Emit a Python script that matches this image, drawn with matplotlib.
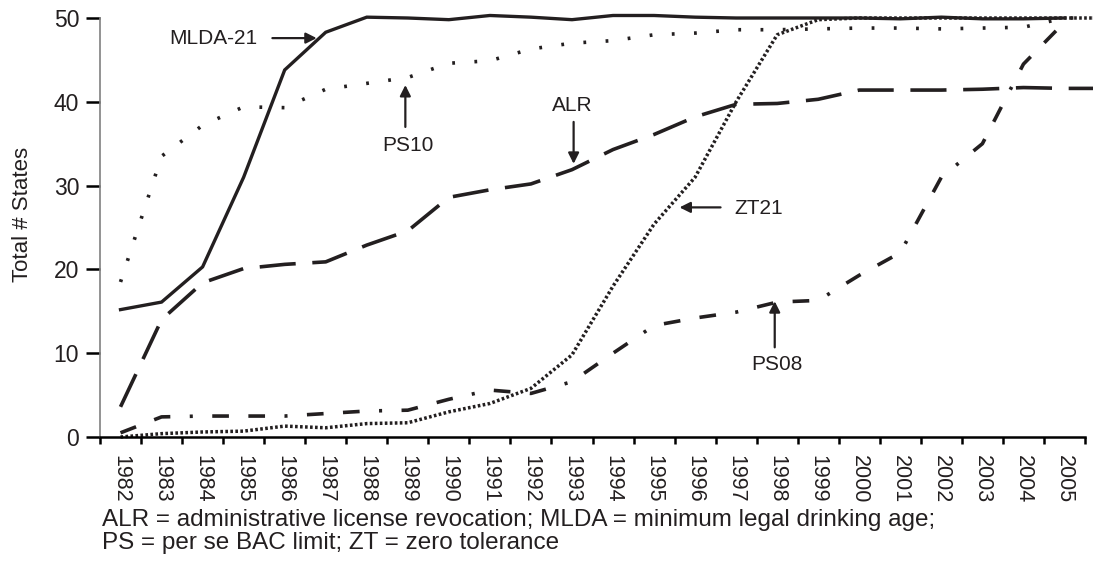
import matplotlib
matplotlib.use("Agg")
import matplotlib.pyplot as plt
import numpy as np

plt.rcParams['font.family'] = ['Liberation Sans', 'DejaVu Sans']
plt.rcParams['lines.scale_dashes'] = False

INK = '#231f20'

years = [str(y) for y in range(1982, 2006)]

# state counts per year; the last value of some series is the year after 2005,
# which runs off the right edge of the original figure
mlda21 = [15.2, 16.1, 20.3, 31.0, 43.8, 48.3, 50.1, 50.0, 49.8, 50.3, 50.1, 49.8,
          50.3, 50.3, 50.1, 50.0, 50.0, 50.0, 50.0, 49.9, 50.1, 49.9, 49.9, 50.0]
ps10 = [18.5, 33.5, 37.2, 39.4, 39.3, 41.5, 42.2, 42.9, 44.6, 44.9, 46.3, 47.0,
        47.3, 48.0, 48.2, 48.6, 48.6, 48.7, 48.8, 48.8, 48.7, 48.8, 48.9, 50.0, 50.0]
alr = [3.6, 14.0, 18.4, 20.1, 20.6, 20.9, 22.9, 24.6, 28.6, 29.5, 30.2, 31.9,
       34.3, 36.1, 38.2, 39.7, 39.8, 40.3, 41.4, 41.4, 41.4, 41.5, 41.7, 41.6, 41.6]
zt21 = [0.0, 0.4, 0.6, 0.7, 1.3, 1.1, 1.6, 1.7, 3.0, 4.0, 5.8, 9.8,
        18.0, 25.4, 31.0, 40.0, 48.0, 49.8, 50.0, 50.0, 50.0, 50.0, 50.0, 50.0, 50.0]
ps08 = [0.5, 2.4, 2.5, 2.5, 2.5, 2.8, 3.1, 3.2, 4.5, 5.6, 5.2, 6.6,
        10.0, 13.3, 14.2, 14.9, 16.1, 16.3, 19.3, 22.0, 31.0, 35.0, 44.5, 49.5]

# (label, text x, text y, arrow start, arrow end) in data units
callouts = [
    ('MLDA-21', 2.26, 47.6, (3.70, 47.6), (4.78, 47.6)),
    ('PS10', 7.01, 34.8, (6.94, 37.0), (6.94, 42.0)),
    ('ALR', 11.01, 39.6, (11.04, 37.6), (11.04, 32.6)),
    ('ZT21', 15.55, 27.3, (14.62, 27.4), (13.62, 27.4)),
    ('PS08', 15.99, 8.6, (15.94, 10.7), (15.94, 16.2)),
]


def draw(ax, values, **kw):
    x = np.arange(len(values))
    ax.plot(x, values, color=INK, clip_on=False, **kw)


fig = plt.figure(figsize=(10.93, 5.67), dpi=100)
ax = fig.add_axes([100 / 1093, 130 / 567, 985 / 1093, 419 / 567])

draw(ax, mlda21, lw=2.4, solid_joinstyle='miter')
draw(ax, ps10, lw=2.6, linestyle=(0, (2.0, 14)))
draw(ax, alr, lw=2.6, linestyle=(0, (26, 12)))
draw(ax, zt21, lw=2.5, linestyle=(0, (1.9, 1.7)))
draw(ax, ps08, lw=2.6, linestyle=(0, (12, 14, 12, 14, 2.2, 14)))

for label, tx, ty, start, end in callouts:
    ax.text(tx, ty, label, fontsize=15, color=INK, ha='center', va='center')
    ax.annotate('', xy=end, xytext=start,
                arrowprops=dict(arrowstyle='-|>', color=INK, lw=1.6,
                                mutation_scale=16, shrinkA=0, shrinkB=0))

ax.set_xlim(-0.5, len(years) - 0.5)
ax.set_ylim(0, 50)

ax.set_xticks(np.arange(len(years) + 1) - 0.5)
ax.set_xticklabels([])
ax.set_xticks(np.arange(len(years)), minor=True)
ax.set_xticklabels(years, minor=True, rotation=270, fontsize=15.5, color=INK)
ax.tick_params(axis='x', which='major', length=5, width=1.8, color='black')
ax.tick_params(axis='x', which='minor', length=0, pad=13)

ax.set_yticks([0, 10, 20, 30, 40, 50])
ax.tick_params(axis='y', length=10, width=1.8, color='black', labelsize=16.5,
               labelcolor=INK, pad=5)

for side in ['top', 'right']:
    ax.spines[side].set_visible(False)
ax.spines['left'].set_color('#808080')
ax.spines['left'].set_linewidth(1.2)
ax.spines['bottom'].set_color('black')
ax.spines['bottom'].set_linewidth(1.8)

ax.set_ylabel('Total # States', fontsize=16, color=INK)
ax.yaxis.set_label_coords(-0.068, 0.53)

fig.text(102 / 1093, 1 - 520 / 567,
         'ALR = administrative license revocation; MLDA = minimum legal drinking age;',
         fontsize=17.5, color=INK, ha='left', va='center')
fig.text(102 / 1093, 1 - 543 / 567,
         'PS = per se BAC limit; ZT = zero tolerance',
         fontsize=17.5, color=INK, ha='left', va='center')

fig.savefig('out.png', dpi=100)
